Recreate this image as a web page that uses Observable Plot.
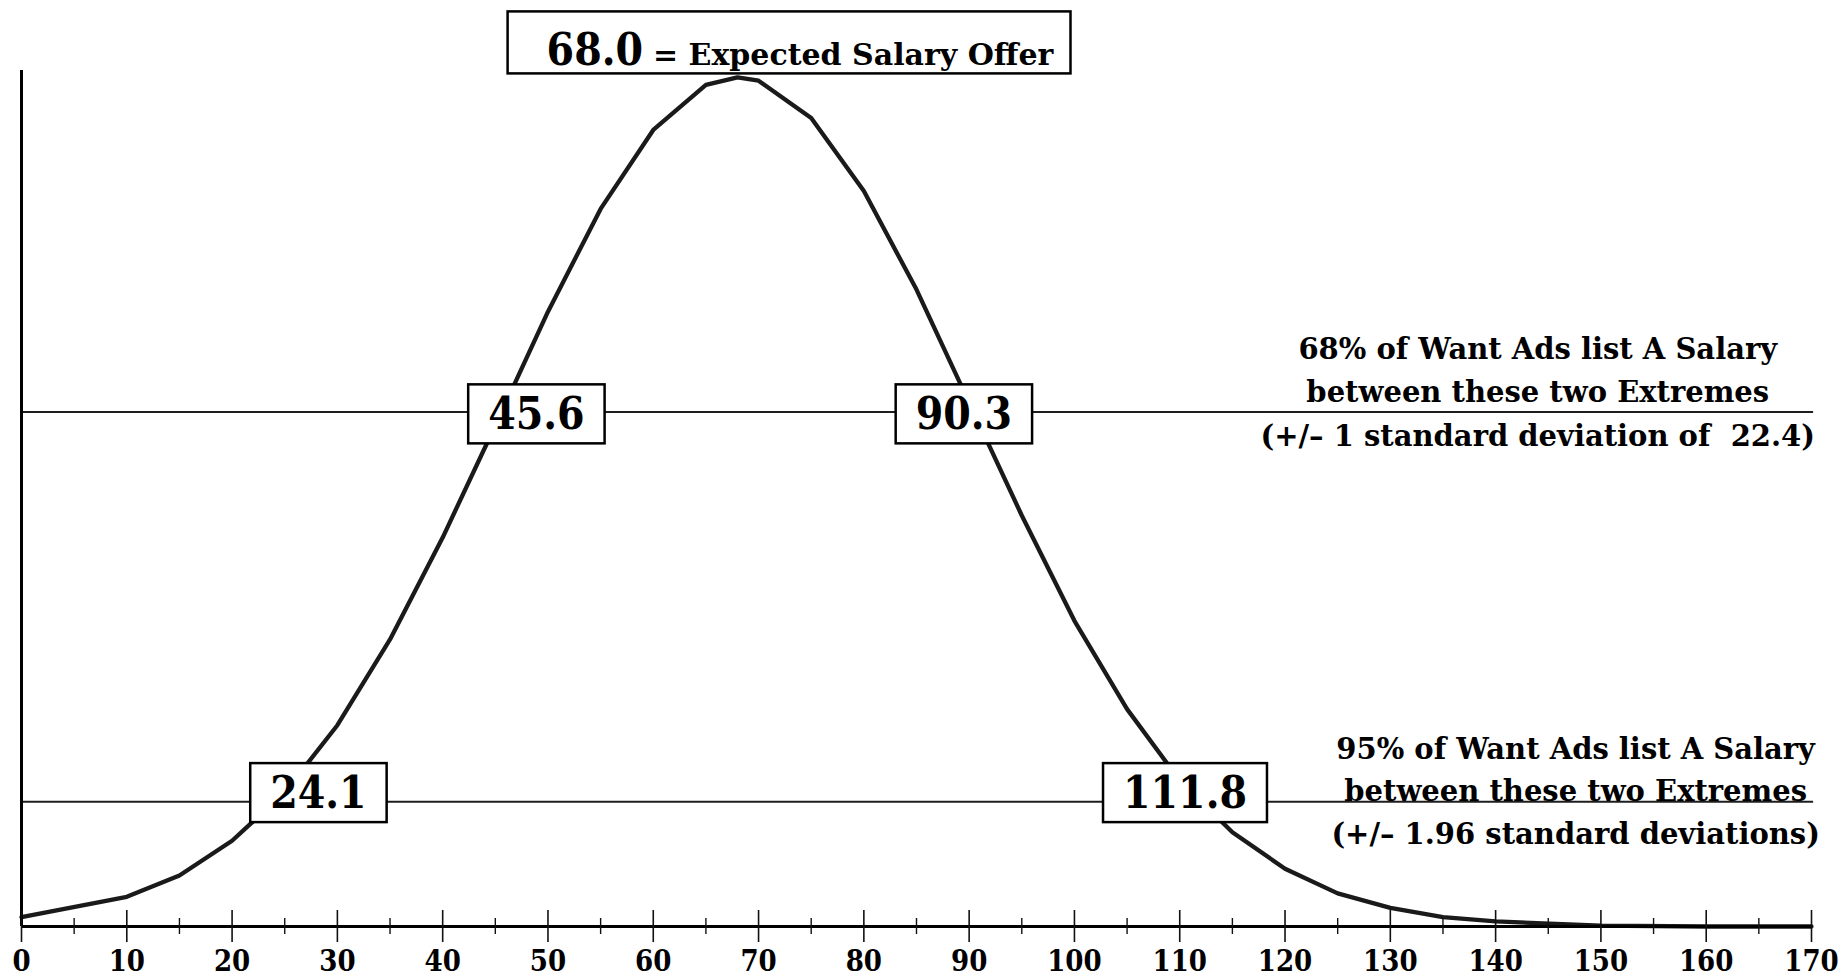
<!DOCTYPE html>
<html>
<head>
<meta charset="utf-8">
<script src="https://cdn.jsdelivr.net/npm/d3@7"></script>
<script src="https://cdn.jsdelivr.net/npm/@observablehq/plot@0.6"></script>
<style>
  html, body { margin: 0; padding: 0; background: #fff; }
  svg { display: block; }
</style>
</head>
<body>
<script>
// Salary values (x, in thousands) and relative frequency (peak = 100)
const salary = [0, 10, 15, 20, 25, 30, 35, 40, 45, 50, 55, 60, 65, 68, 70, 75, 80, 85, 90, 95, 100, 105, 110, 115, 120, 125, 130, 135, 140, 150, 160, 170];
const frequency = [1.1, 3.5, 6.0, 10.1, 15.8, 23.7, 33.8, 45.8, 59.0, 72.4, 84.5, 93.8, 99.1, 100, 99.6, 95.2, 86.6, 75.0, 61.7, 48.4, 36.0, 25.6, 17.2, 11.1, 6.8, 3.9, 2.2, 1.1, 0.6, 0.1, 0.0, 0.0];

// band levels (relative frequency at +/-1 sd and +/-1.96 sd)
const bandLevels = [60.6, 14.7];

// boxed value labels
const boxTexts = ["45.6", "90.3", "24.1", "111.8"];
const boxX = [48.9, 89.5, 28.2, 110.5];
const boxY = [60.2, 60.2, 15.6, 15.6];

// top label
const meanText = "68.0";
const meanCaption = "= Expected Salary Offer";
const meanAt = [59.5, 101.4];

// right-hand notes
const notes = [
  "68% of Want Ads list A Salary\nbetween these two Extremes\n(+/\u2013 1 standard deviation of\u00a0 22.4)",
  "95% of Want Ads list A Salary\nbetween these two Extremes\n(+/\u2013 1.96 standard deviations)"
];
const noteX = [144.0, 147.6];
const noteY = [56.6, 9.77];
const noteLH = [1.5, 1.45];

// ticks
const majorTicks = d3.range(0, 171, 10);
const minorTicks = d3.range(5, 170, 10);

const curve = salary.map((s, i) => ({s, f: frequency[i]}));
const boxes = boxTexts.map((t, i) => ({t, x: boxX[i], y: boxY[i]}));
const noteData = notes.map((t, i) => ({t, x: noteX[i], y: noteY[i]}));

const SERIF = "DejaVu Serif, serif";
const COND = "DejaVu Serif Condensed, DejaVu Serif, serif";

const chart = Plot.plot({
  width: 1843,
  height: 978,
  marginLeft: 21,
  marginRight: 32,
  marginTop: 70,
  marginBottom: 52,
  style: {background: "#fff", color: "#000", fontFamily: SERIF, overflow: "visible"},
  x: {domain: [0, 170]},
  y: {domain: [0, 100.8], axis: null},
  marks: [
    // band lines
    Plot.ruleY(bandLevels, {x1: 0, x2: 170.2, stroke: "#1e1e1e", strokeWidth: 2}),
    // curve
    Plot.line(curve, {x: "s", y: "f", stroke: "#1a1a1a", strokeWidth: 4.3, strokeLinejoin: "miter", curve: "linear"}),
    // axes lines
    Plot.ruleX([0], {stroke: "#000", strokeWidth: 3}),
    Plot.ruleY([0], {x1: 0, x2: 170, stroke: "#000", strokeWidth: 3}),
    // ticks crossing the axis
    Plot.ruleX(majorTicks, {x: d => d, y1: 0, y2: 0, insetTop: -16, insetBottom: -16, stroke: "#111", strokeWidth: 1.6}),
    Plot.ruleX(minorTicks, {x: d => d, y1: 0, y2: 0, insetTop: -8, insetBottom: -8, stroke: "#111", strokeWidth: 1.4}),
    Plot.axisX({ticks: majorTicks, tickSize: 0, tickPadding: 24, tickFormat: d => String(d), fontSize: 29, fontWeight: "bold", fontFamily: COND, stroke: null}),
    // boxed values
    Plot.text(boxes, {x: "x", y: "y", text: "t", fontSize: 44, fontWeight: "bold", fontFamily: COND, fill: "#000", lineAnchor: "middle", ariaDescription: "boxed"}),
    // top label
    Plot.text([meanText], {x: meanAt[0], y: meanAt[1], text: d => d, textAnchor: "end", lineAnchor: "bottom", dx: -5, fontSize: 44, fontWeight: "bold", fontFamily: COND, fill: "#000", ariaDescription: "topbox"}),
    Plot.text([meanCaption], {x: meanAt[0], y: meanAt[1], text: d => d, textAnchor: "start", lineAnchor: "bottom", dx: 5, fontSize: 30, fontWeight: "bold", fontFamily: SERIF, fill: "#000", ariaDescription: "topbox"}),
    // notes
    Plot.text(noteData.slice(0, 1), {x: "x", y: "y", text: "t", textAnchor: "middle", lineAnchor: "bottom", lineHeight: noteLH[0], fontSize: 29, fontWeight: "bold", fontFamily: SERIF, fill: "#000"}),
    Plot.text(noteData.slice(1, 2), {x: "x", y: "y", text: "t", textAnchor: "middle", lineAnchor: "bottom", lineHeight: noteLH[1], fontSize: 29, fontWeight: "bold", fontFamily: SERIF, fill: "#000"})
  ]
});

document.body.append(chart);

// draw boxes around labelled texts, sized from the rendered text
const NS = "http://www.w3.org/2000/svg";
const sRect = chart.getBoundingClientRect();
function drawBox(nodes, pad, before) {
  let x0 = Infinity, y0 = Infinity, x1 = -Infinity, y1 = -Infinity;
  nodes.forEach(n => {
    const r = n.getBoundingClientRect();
    x0 = Math.min(x0, r.left - sRect.left); y0 = Math.min(y0, r.top - sRect.top);
    x1 = Math.max(x1, r.right - sRect.left); y1 = Math.max(y1, r.bottom - sRect.top);
  });
  const rect = document.createElementNS(NS, "rect");
  rect.setAttribute("x", x0 - pad.l);
  rect.setAttribute("y", y0 - pad.t);
  rect.setAttribute("width", x1 - x0 + pad.l + pad.r);
  rect.setAttribute("height", y1 - y0 + pad.t + pad.b);
  rect.setAttribute("fill", "#fff");
  rect.setAttribute("stroke", "#000");
  rect.setAttribute("stroke-width", 2.5);
  before.parentNode.insertBefore(rect, before);
}
const boxedGroup = chart.querySelector('g[aria-description="boxed"]');
boxedGroup.querySelectorAll("text").forEach(t => drawBox([t], {l: 20, r: 20, t: 4, b: 4}, boxedGroup));
const topGroups = chart.querySelectorAll('g[aria-description="topbox"]');
const topTexts = [...topGroups].flatMap(g => [...g.querySelectorAll("text")]);
drawBox(topTexts, {l: 39, r: 16, t: 13, b: -2}, topGroups[0]);
</script>
</body>
</html>
